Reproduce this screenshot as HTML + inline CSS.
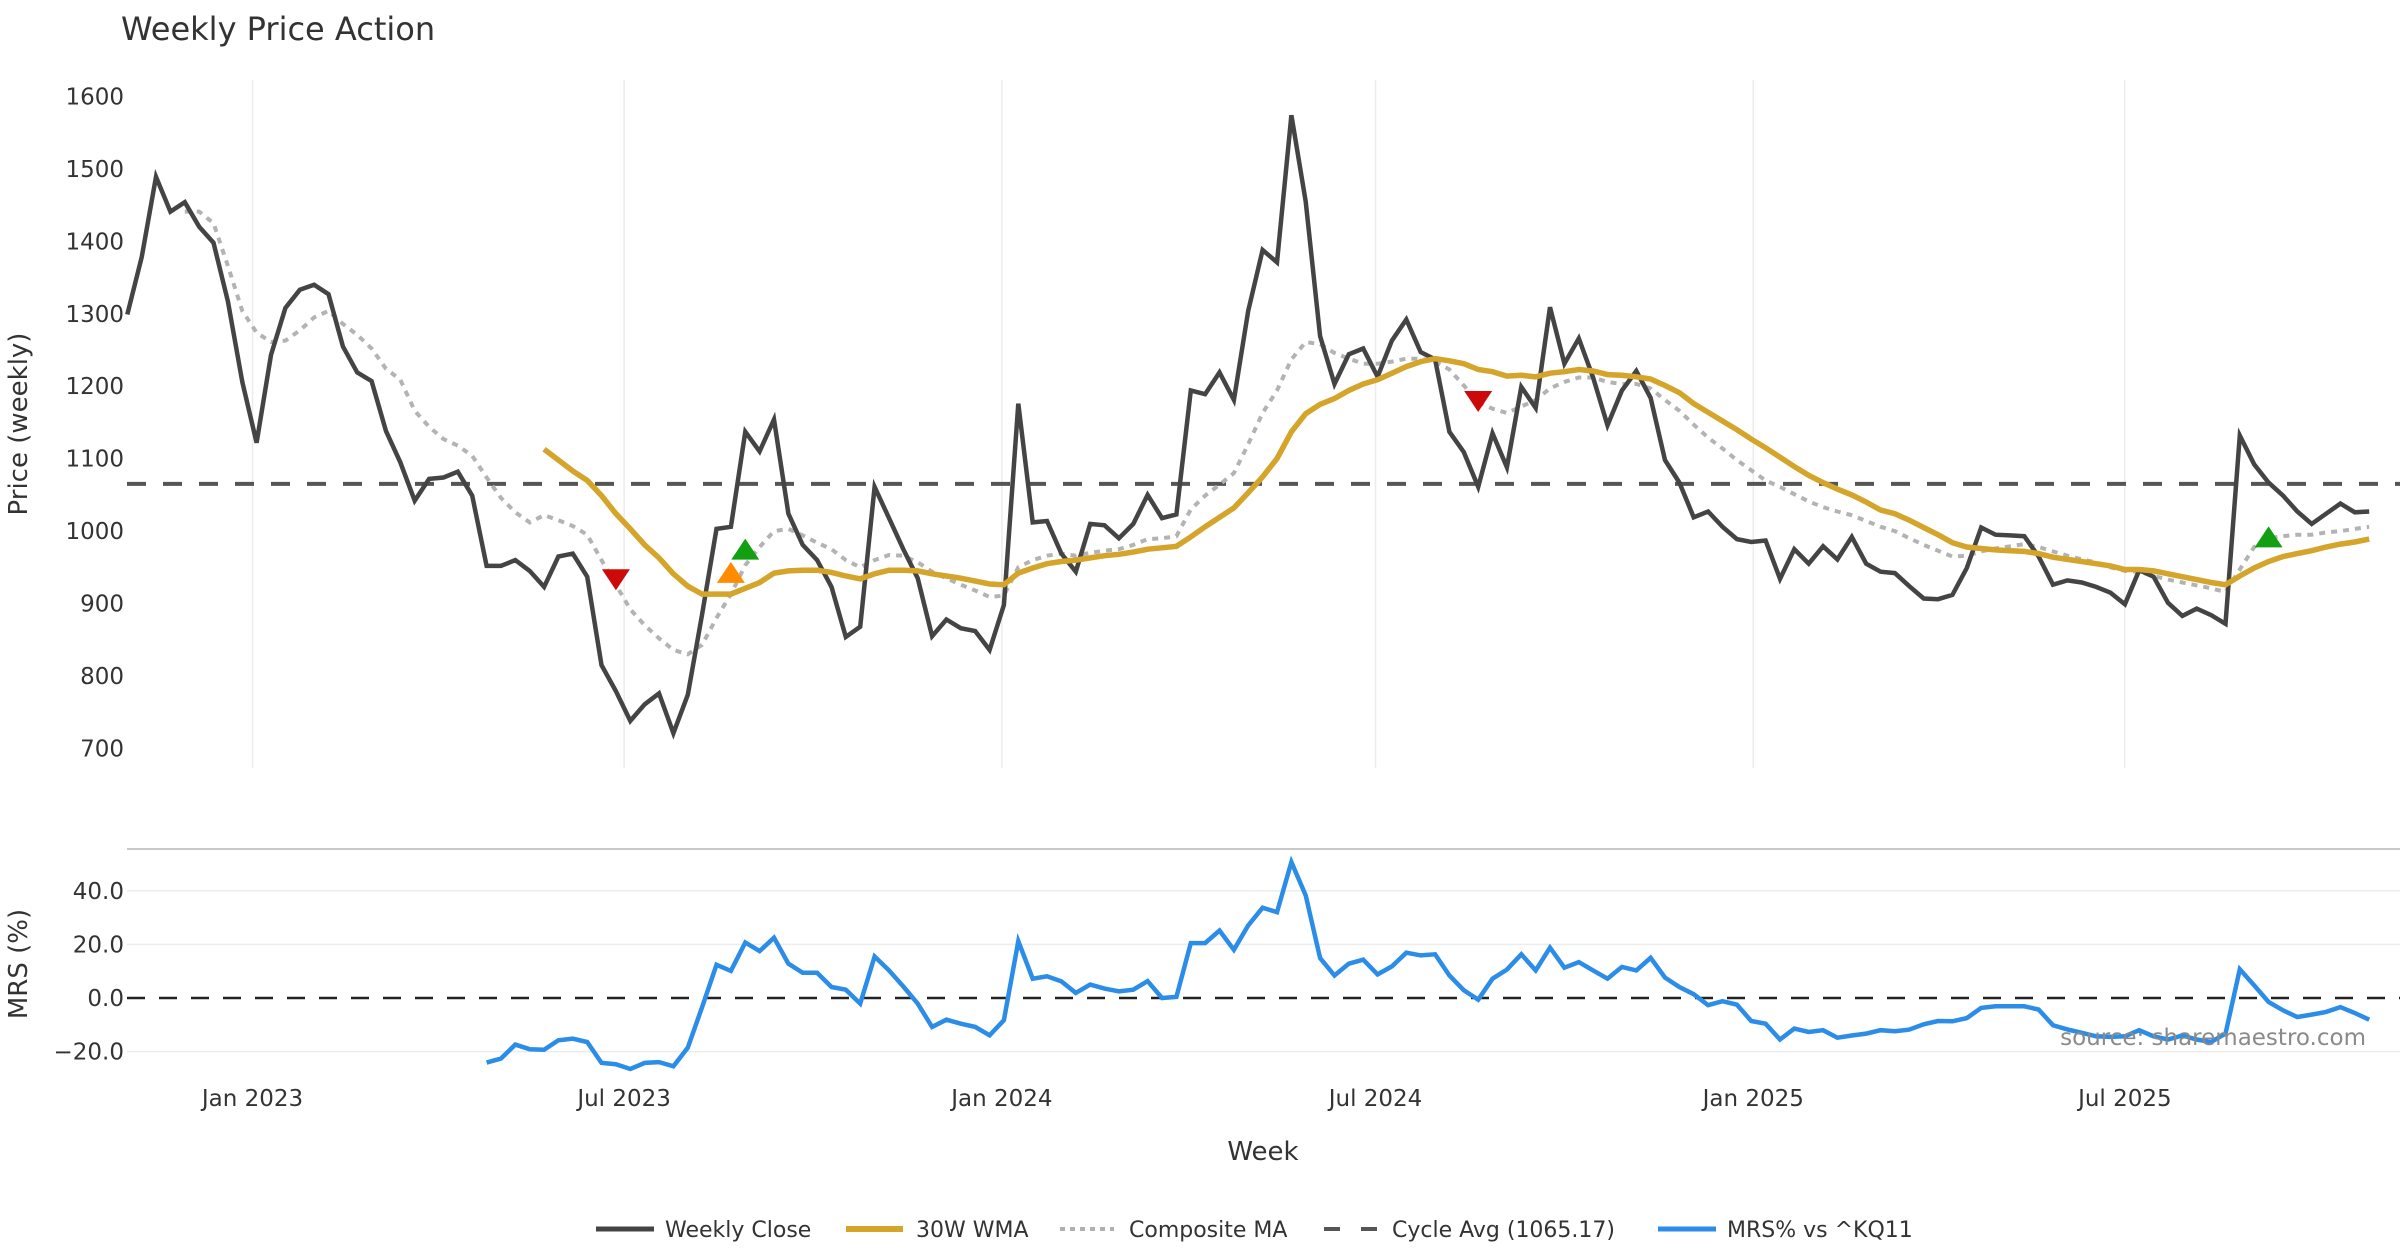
<!DOCTYPE html>
<html><head><meta charset="utf-8">
<style>
html,body{margin:0;padding:0;background:#fff;}
svg{display:block;font-family:"DejaVu Sans","Liberation Sans",sans-serif;}
</style></head>
<body>
<svg id="chart" width="2400" height="1260" viewBox="0 0 2400 1260" xmlns="http://www.w3.org/2000/svg">
<text x="121" y="40" font-size="32" fill="#333">Weekly Price Action</text>
<text transform="translate(27,424) rotate(-90)" text-anchor="middle" font-size="26" fill="#333">Price (weekly)</text>
<text transform="translate(27,964) rotate(-90)" text-anchor="middle" font-size="26" fill="#333">MRS (%)</text>
<text x="1263" y="1160" text-anchor="middle" font-size="26" fill="#333">Week</text>
<line x1="127" x2="2400" y1="849" y2="849" stroke="#c8c8c8" stroke-width="2"/>
<g id="grid"></g>
<g id="series"></g>
<text x="2366" y="1045" text-anchor="end" font-size="23" fill="#8a8a8a">source: sharemaestro.com</text>
<g id="legend">
  <line x1="596" x2="654" y1="1229" y2="1229" stroke="#444" stroke-width="5"/>
  <text x="665" y="1237" font-size="22" fill="#333">Weekly Close</text>
  <line x1="846" x2="903" y1="1229" y2="1229" stroke="#d4a52a" stroke-width="6"/>
  <text x="916" y="1237" font-size="22" fill="#333">30W WMA</text>
  <line x1="1060" x2="1114" y1="1229" y2="1229" stroke="#b0b0b0" stroke-width="4" stroke-dasharray="5 5"/>
  <text x="1129" y="1237" font-size="22" fill="#333">Composite MA</text>
  <line x1="1324" x2="1377" y1="1229" y2="1229" stroke="#555" stroke-width="4" stroke-dasharray="16 21"/>
  <text x="1392" y="1237" font-size="22" fill="#333">Cycle Avg (1065.17)</text>
  <line x1="1658" x2="1716" y1="1229" y2="1229" stroke="#2b8de8" stroke-width="5"/>
  <text x="1727" y="1237" font-size="22" fill="#333">MRS% vs ^KQ11</text>
</g>
</svg>
<script>
const startDate = "2022-11-01";
const closeValues = [1299,1378,1489,1441,1454,1420,1398,1317,1206,1122,
1243,1308,1333,1340,1327,1255,1219,1207,1138,1095,
1042,1072,1074,1082,1049,952,952,960,945,923,
965,969,937,815,779,738,761,776,721,774,
885,1003,1006,1137,1110,1154,1024,981,960,923,
854,868,1061,1018,975,935,855,878,866,862,
836,898,1176,1012,1014,969,944,1010,1008,990,
1010,1050,1018,1023,1194,1189,1219,1181,1304,1388,
1371,1574,1455,1269,1203,1244,1252,1213,1263,1292,
1247,1237,1137,1109,1061,1135,1088,1199,1170,1309,
1231,1266,1212,1146,1194,1221,1184,1098,1067,1019,
1027,1006,989,985,987,934,975,955,979,961,
992,955,944,942,924,907,906,912,949,1005,
995,994,993,965,926,932,929,923,915,899,
946,937,901,883,893,884,872,1132,1092,1067,
1049,1027,1010,1024,1038,1026,1027];
const wmaStart = 29;
const wmaValues = [1113,
1098,1083,1070,1049,1024,1003,981,963,941,924,
913,913,913,921,929,942,945,946,946,943,
938,934,941,946,946,945,941,938,935,931,
927,926,942,949,955,958,960,963,966,968,
971,975,977,979,992,1006,1019,1032,1053,1075,
1100,1137,1162,1175,1183,1194,1203,1209,1218,1227,
1234,1238,1235,1231,1223,1220,1214,1215,1213,1218,
1220,1223,1221,1216,1215,1213,1210,1201,1191,1176,
1164,1152,1140,1127,1115,1102,1089,1077,1067,1058,
1050,1040,1029,1024,1015,1005,995,984,978,976,
974,973,972,969,964,961,958,955,952,947,
947,945,941,937,933,929,926,938,949,958,
965,969,973,978,982,985,989];
const compStart = 4;
const compValues = [1441,1441,1425,1366,1304,1274,
1261,1263,1277,1295,1304,1286,1271,1252,1224,1209,
1166,1144,1127,1118,1104,1074,1046,1026,1012,1022,
1015,1007,995,960,926,892,870,852,836,830,
843,880,913,953,978,1000,1003,994,984,975,
960,950,960,967,966,957,944,935,926,918,
909,911,950,960,966,969,966,970,973,975,
981,989,990,993,1030,1049,1064,1080,1120,1163,
1194,1237,1261,1258,1246,1238,1231,1231,1234,1238,
1238,1234,1223,1201,1178,1169,1163,1172,1181,1197,
1206,1212,1212,1206,1203,1203,1197,1181,1166,1147,
1129,1114,1098,1084,1070,1061,1051,1041,1033,1027,
1022,1014,1006,1000,990,981,973,965,966,972,
976,979,982,978,972,966,961,957,950,945,
944,938,933,929,925,921,916,947,978,990,
993,995,995,998,1000,1003,1006];
const mrsStart = 25;
const mrsValues = [-24.1,-22.6,-17.4,-19.1,-19.3,
-15.8,-15.2,-16.4,-24.2,-24.7,-26.5,-24.2,-23.9,-25.5,-18.5,
-3.4,12.4,10.1,20.7,17.5,22.5,12.8,9.4,9.4,4.1,
3.1,-2.1,15.5,10.3,4.3,-2.1,-10.8,-8.1,-9.6,-10.8,
-13.9,-8.3,21.2,7.2,8.1,6.2,1.9,5.0,3.5,2.5,
3.1,6.3,0,0.4,20.5,20.5,25.2,18.0,27.1,33.7,
32.0,50.7,38.3,14.9,8.4,12.8,14.3,8.8,11.8,16.9,
15.9,16.3,8.4,2.9,-0.6,7.2,10.6,16.3,10.3,18.8,
11.3,13.4,10.3,7.2,11.6,10.3,15.0,7.6,4.1,1.4,
-2.7,-1.2,-2.5,-8.6,-9.6,-15.5,-11.4,-12.7,-12.0,-14.8,
-14.0,-13.3,-12.0,-12.4,-11.8,-9.8,-8.6,-8.7,-7.5,-3.7,
-3.1,-3.1,-3.1,-4.3,-10.2,-11.7,-13.0,-14.3,-14.5,-14.3,
-12.0,-14.3,-15.5,-14.0,-15.5,-16.4,-13.3,10.7,4.7,-1.5,
-4.6,-7.1,-6.2,-5.2,-3.4,-5.6,-8.1];
const cycleAvg = 1065.17;
const signalIdx = [34, 42, 43, 94, 149];
const signalVal = [935, 941, 973, 1181, 990];
const signalType = ["sell", "watch", "buy", "sell", "buy"];
const priceTicks = [700,800,900,1000,1100,1200,1300,1400,1500,1600];
const mrsTicks = [-20,0,20,40];
const mrsTickLabels = ["\u221220.0","0.0","20.0","40.0"];
const dateTicks = ["2023-01-01","2023-07-01","2024-01-01","2024-07-01","2025-01-01","2025-07-01"];
const dateTickLabels = ["Jan 2023","Jul 2023","Jan 2024","Jul 2024","Jan 2025","Jul 2025"];

const NS = "http://www.w3.org/2000/svg";
const t0 = Date.parse(startDate);
const X0 = 127.3, PX_PER_DAY = 2.053;
function xDate(s){ return X0 + (Date.parse(s)-t0)/86400000*PX_PER_DAY; }
function xIdx(i){ return X0 + i*7*PX_PER_DAY; }
function yPrice(v){ return 96.4 + (1600-v)*0.7245; }
function yMrs(v){ return 998 - v*2.68; }
function mk(tag, attrs, parent){ const e=document.createElementNS(NS,tag); for(const k in attrs) e.setAttribute(k, attrs[k]); parent.appendChild(e); return e; }
const grid = document.getElementById('grid');
const series = document.getElementById('series');

dateTicks.forEach((d,k)=>{
  const x = xDate(d);
  const gl = mk('line',{x1:x,x2:x,y1:80,y2:768,stroke:'#ececec','stroke-width':1.5},grid);
  
  
  const t = mk('text',{x:x,y:1106,'text-anchor':'middle','font-size':23,fill:'#333'},grid);
  t.textContent = dateTickLabels[k];
  
  
});
priceTicks.forEach(v=>{
  const t = mk('text',{x:124,y:yPrice(v)+8,'text-anchor':'end','font-size':23,fill:'#333'},grid);
  t.textContent = v;
  
  
});
mrsTicks.forEach((v,k)=>{
  if(v!==0){
    const gl = mk('line',{x1:127,x2:2400,y1:yMrs(v),y2:yMrs(v),stroke:'#ececec','stroke-width':1.5},grid);
    
    
  }
  const t = mk('text',{x:124,y:yMrs(v)+8,'text-anchor':'end','font-size':23,fill:'#333'},grid);
  t.textContent = mrsTickLabels[k];
  
  
});
const z = mk('line',{x1:127,x2:2400,y1:yMrs(0),y2:yMrs(0),stroke:'#222','stroke-width':2.5,'stroke-dasharray':'18 14'},grid);



const cyc = mk('line',{x1:127,x2:2400,y1:yPrice(cycleAvg),y2:yPrice(cycleAvg),stroke:'#555','stroke-width':4,'stroke-dasharray':'19 17'},series);



function path(vals, start, yf){ return vals.map((v,j)=>(j?'L':'M')+xIdx(start+j).toFixed(1)+','+yf(v).toFixed(1)).join(''); }
const pc = mk('path',{d:path(compValues,compStart,yPrice),fill:'none',stroke:'#b3b3b3','stroke-width':4,'stroke-dasharray':'6 6'},series);


const pcl = mk('path',{d:path(closeValues,0,yPrice),fill:'none',stroke:'#444','stroke-width':4.5,'stroke-linejoin':'miter'},series);


const pw = mk('path',{d:path(wmaValues,wmaStart,yPrice),fill:'none',stroke:'#d4a52a','stroke-width':5.5},series);


const pm = mk('path',{d:path(mrsValues,mrsStart,yMrs),fill:'none',stroke:'#2b8de8','stroke-width':4.5},series);



signalIdx.forEach((i,k)=>{
  const x = xIdx(i), y = yPrice(signalVal[k]), s=14;
  let pts, col;
  if(signalType[k]==='sell'){ pts=`${x-s},${y-9} ${x+s},${y-9} ${x},${y+12}`; col='#cc0a0a'; }
  else { pts=`${x-s},${y+9} ${x+s},${y+9} ${x},${y-12}`; col = signalType[k]==='buy' ? '#12a012' : '#ff8c00'; }
  const p = mk('polygon',{points:pts,fill:col},series);
  
  
});
</script>
</body></html>
